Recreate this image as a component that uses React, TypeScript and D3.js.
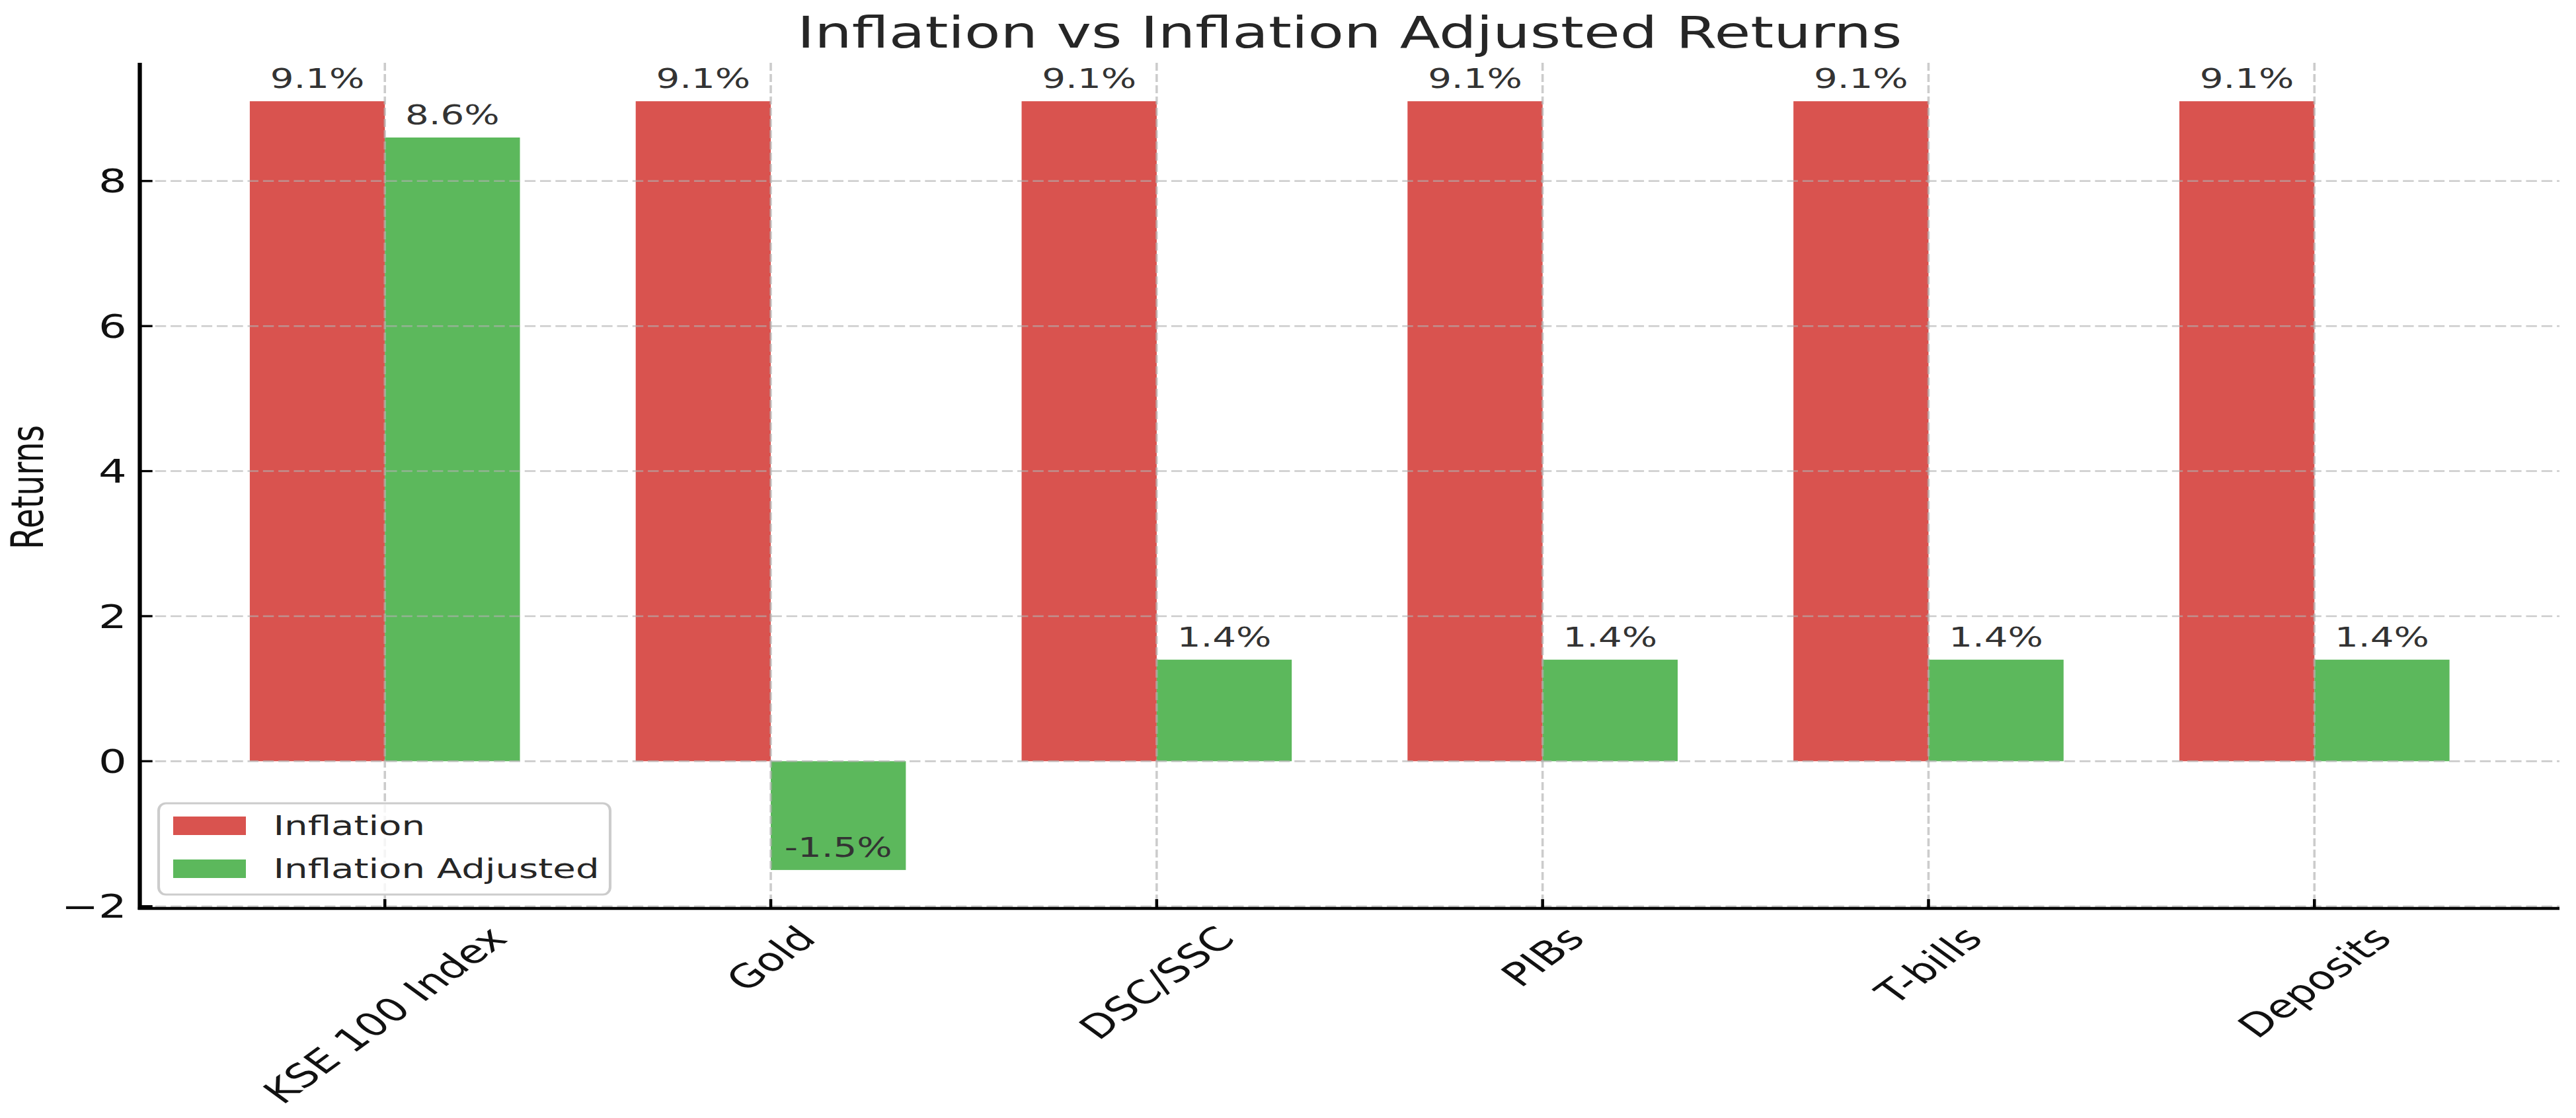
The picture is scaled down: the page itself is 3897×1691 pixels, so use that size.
import React, { useEffect, useRef } from "react";
import * as d3 from "d3";

const categories = ["KSE 100 Index", "Gold", "DSC/SSC", "PIBs", "T-bills", "Deposits"];
const inflation = [9.1, 9.1, 9.1, 9.1, 9.1, 9.1];
const inflationAdjusted = [8.6, -1.5, 1.4, 1.4, 1.4, 1.4];
const seriesNames = ["Inflation", "Inflation Adjusted"];
const seriesColors = ["#d9534f", "#5cb85c"];
const yTicks = [-2, 0, 2, 4, 6, 8];
const yDomain = [-2.03, 9.63];
const titleText = "Inflation vs Inflation Adjusted Returns";
const yLabelText = "Returns";

const W = 3897;
const H = 1691;
const SX = 1.37; // horizontal stretch of the whole picture
const FONT = "'DejaVu Sans', Verdana, sans-serif";

export default function App() {
  const ref = useRef<SVGSVGElement | null>(null);

  useEffect(() => {
    const svg = d3.select(ref.current);
    svg.selectAll("*").remove();
    svg.append("rect").attr("width", W).attr("height", H).attr("fill", "#ffffff");
    const g = svg.append("g").attr("transform", `scale(${SX},1)`);

    const left = 211.5 / SX;
    const right = 3872 / SX;
    const top = 95;
    const bottom = 1374;

    const x0 = d3
      .scaleBand<string>()
      .domain(categories)
      .range([left, right])
      .paddingInner(0.3)
      .paddingOuter(0.285);
    const x1 = d3.scaleBand<string>().domain(seriesNames).range([0, x0.bandwidth()]);
    const y = d3.scaleLinear().domain(yDomain).range([bottom, top]);

    const series = [inflation, inflationAdjusted];

    // bars
    series.forEach((vals, si) => {
      g.append("g")
        .selectAll("rect")
        .data(vals)
        .join("rect")
        .attr("x", (_d, i) => (x0(categories[i]) as number) + (x1(seriesNames[si]) as number))
        .attr("y", (d) => y(Math.max(d, 0)))
        .attr("width", x1.bandwidth())
        .attr("height", (d) => Math.abs(y(d) - y(0)))
        .attr("fill", seriesColors[si]);
    });

    // grid (above bars)
    const grid = g.append("g").attr("stroke", "#b0b0b0").attr("stroke-opacity", 0.65).attr("stroke-width", 2.6).attr("stroke-dasharray", "12,5");
    grid
      .selectAll("line.h")
      .data(yTicks)
      .join("line")
      .attr("class", "h")
      .attr("x1", left)
      .attr("x2", right)
      .attr("y1", (d) => y(d))
      .attr("y2", (d) => y(d));
    grid
      .selectAll("line.v")
      .data(categories)
      .join("line")
      .attr("class", "v")
      .attr("x1", (d) => (x0(d) as number) + x0.bandwidth() / 2)
      .attr("x2", (d) => (x0(d) as number) + x0.bandwidth() / 2)
      .attr("y1", top)
      .attr("y2", bottom);

    // bar labels
    series.forEach((vals, si) => {
      g.append("g")
        .selectAll("text")
        .data(vals)
        .join("text")
        .attr("x", (_d, i) => (x0(categories[i]) as number) + (x1(seriesNames[si]) as number) + x1.bandwidth() / 2)
        .attr("y", (d) => y(d) - 20)
        .attr("text-anchor", "middle")
        .attr("font-family", FONT)
        .attr("font-size", 41)
        .attr("fill", "#333333")
        .text((d) => `${d.toFixed(1)}%`);
    });

    // spines
    g.append("line").attr("x1", left).attr("x2", left).attr("y1", top).attr("y2", bottom + 2).attr("stroke", "#000").attr("stroke-width", 4.6);
    g.append("line").attr("x1", left - 2).attr("x2", right).attr("y1", bottom).attr("y2", bottom).attr("stroke", "#000").attr("stroke-width", 4.6);

    // y ticks (inward)
    g.append("g")
      .selectAll("line")
      .data(yTicks)
      .join("line")
      .attr("x1", left)
      .attr("x2", left + 14)
      .attr("y1", (d) => y(d))
      .attr("y2", (d) => y(d))
      .attr("stroke", "#000")
      .attr("stroke-width", 3.3);
    g.append("g")
      .selectAll("text")
      .data(yTicks)
      .join("text")
      .attr("x", 140)
      .attr("y", (d) => y(d))
      .attr("dy", "0.36em")
      .attr("text-anchor", "end")
      .attr("font-family", FONT)
      .attr("font-size", 49)
      .attr("fill", "#111111")
      .text((d) => (d < 0 ? `\u2212${Math.abs(d)}` : `${d}`));

    // x ticks (inward)
    g.append("g")
      .selectAll("line")
      .data(categories)
      .join("line")
      .attr("x1", (d) => (x0(d) as number) + x0.bandwidth() / 2)
      .attr("x2", (d) => (x0(d) as number) + x0.bandwidth() / 2)
      .attr("y1", bottom)
      .attr("y2", bottom - 14)
      .attr("stroke", "#000")
      .attr("stroke-width", 3.3);

    const xl = g
      .append("g")
      .selectAll("text")
      .data(categories)
      .join("text")
      .attr("text-anchor", "middle")
      .attr("dominant-baseline", "central")
      .attr("font-family", FONT)
      .attr("font-size", 49)
      .attr("fill", "#111111")
      .text((d) => d);
    xl.each(function (d) {
      const node = this as SVGTextElement;
      const w = node.getComputedTextLength();
      const hBox = 1.164 * 49;
      const off = (w + hBox) / (2 * Math.SQRT2);
      const cx = (x0(d) as number) + x0.bandwidth() / 2;
      d3.select(node).attr("transform", `translate(${cx},${bottom + 16 + off}) rotate(-45)`);
    });

    // y label
    g.append("text")
      .attr("transform", `translate(47.4,737) rotate(-90)`)
      .attr("text-anchor", "middle")
      .attr("font-family", FONT)
      .attr("font-size", 49)
      .attr("fill", "#111111")
      .text(yLabelText);

    // title
    g.append("text")
      .attr("x", (left + right) / 2)
      .attr("y", 72)
      .attr("text-anchor", "middle")
      .attr("font-family", FONT)
      .attr("font-size", 65)
      .attr("fill", "#262626")
      .text(titleText);

    // legend
    const lg = g.append("g");
    lg.append("rect")
      .attr("x", 240 / SX)
      .attr("y", 1215)
      .attr("width", (923 - 240) / SX)
      .attr("height", 138)
      .attr("rx", 8)
      .attr("ry", 11)
      .attr("fill", "#ffffff")
      .attr("fill-opacity", 0.8)
      .attr("stroke", "#cccccc")
      .attr("stroke-width", 3);
    const rowsY = [1235, 1300];
    seriesNames.forEach((name, i) => {
      lg.append("rect")
        .attr("x", 262 / SX)
        .attr("y", rowsY[i])
        .attr("width", (372 - 262) / SX)
        .attr("height", 28)
        .attr("fill", seriesColors[i]);
      lg.append("text")
        .attr("x", 419 / SX - 4)
        .attr("y", rowsY[i] + 28)
        .attr("font-family", FONT)
        .attr("font-size", 41)
        .attr("fill", "#262626")
        .text(name);
    });
  }, []);

  return (
    <svg
      ref={ref}
      width={W}
      height={H}
      style={{ position: "absolute", left: 0, top: 0, display: "block" }}
    />
  );
}
